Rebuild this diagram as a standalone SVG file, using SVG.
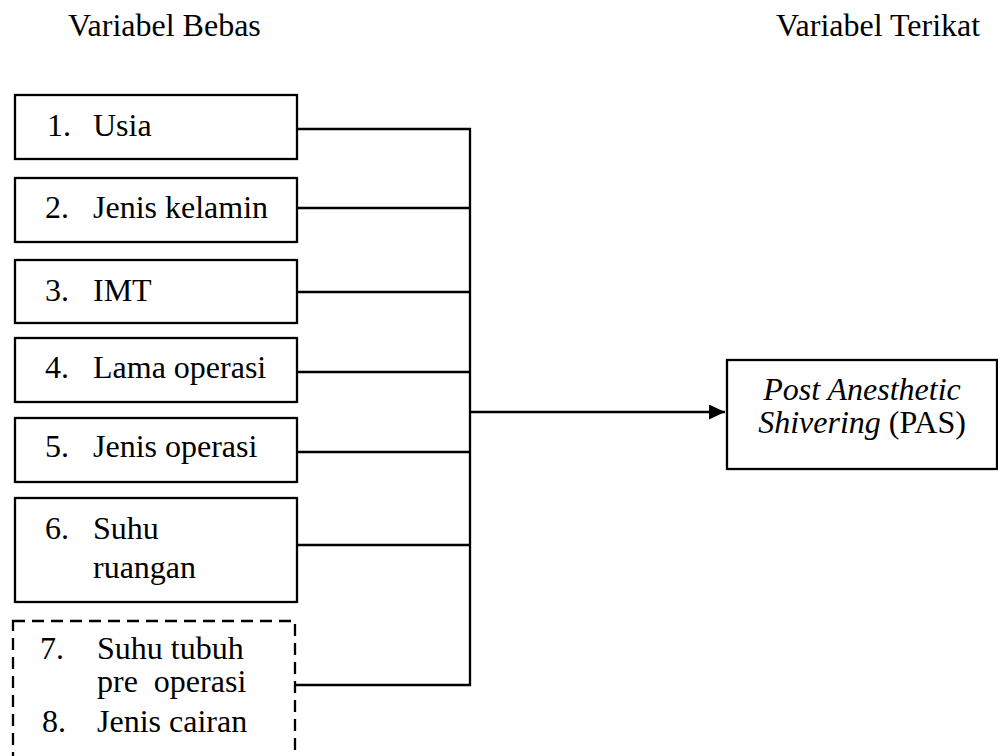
<svg xmlns="http://www.w3.org/2000/svg" width="998" height="756" viewBox="0 0 998 756">
<style>
.box{fill:#fff;stroke:#000;stroke-width:2.3}
.dash{fill:none;stroke:#000;stroke-width:2.3;stroke-dasharray:12 7}
.ln{stroke:#000;stroke-width:2.3;fill:none}
.it{font-style:italic}
</style>
<defs>
<marker id="arr" markerWidth="16" markerHeight="16" refX="16" refY="7.5" orient="auto" markerUnits="userSpaceOnUse">
<path d="M0,0 L16,7.5 L0,15 Z" fill="#000"/>
</marker>
</defs>
<rect width="998" height="756" fill="#fff"/>
<g font-family="Liberation Serif, Times New Roman, serif" font-size="32" fill="#000">
<g id="headings">
<text x="68" y="36">Variabel Bebas</text>
<text x="776" y="36">Variabel Terikat</text>
</g>
<g id="connectors">
<line class="ln" x1="297" y1="129" x2="471" y2="129"/>
<line class="ln" x1="297" y1="208" x2="470" y2="208"/>
<line class="ln" x1="297" y1="292" x2="470" y2="292"/>
<line class="ln" x1="297" y1="372" x2="470" y2="372"/>
<line class="ln" x1="297" y1="452" x2="470" y2="452"/>
<line class="ln" x1="297" y1="545" x2="470" y2="545"/>
<line class="ln" x1="295" y1="685" x2="471" y2="685"/>
<line class="ln" x1="470" y1="128" x2="470" y2="686"/>
<line class="ln" x1="470" y1="412" x2="725" y2="412" marker-end="url(#arr)"/>
</g>
<g id="n1"><rect class="box" x="15" y="95" width="282" height="64"/><text x="47" y="136">1.</text><text x="93" y="136">Usia</text></g>
<g id="n2"><rect class="box" x="15" y="178" width="282" height="64"/><text x="45" y="218">2.</text><text x="93" y="218">Jenis kelamin</text></g>
<g id="n3"><rect class="box" x="15" y="260" width="282" height="63"/><text x="45" y="301">3.</text><text x="93" y="301">IMT</text></g>
<g id="n4"><rect class="box" x="15" y="338" width="282" height="64"/><text x="45" y="378">4.</text><text x="93" y="378">Lama operasi</text></g>
<g id="n5"><rect class="box" x="15" y="418" width="282" height="64"/><text x="45" y="457">5.</text><text x="93" y="457">Jenis operasi</text></g>
<g id="n6"><rect class="box" x="15" y="498" width="282" height="104"/><text x="45" y="539">6.</text><text x="93" y="539">Suhu</text><text x="93" y="578">ruangan</text></g>
<g id="n7"><rect class="dash" x="13" y="621" width="282" height="160"/><text x="40" y="659">7.</text><text x="97" y="659">Suhu tubuh</text><text x="97" y="692" xml:space="preserve">pre  operasi</text><text x="42" y="732">8.</text><text x="97" y="732">Jenis cairan</text></g>
<g id="pas"><rect class="box" x="727" y="360" width="270" height="109"/><text x="862" y="400" text-anchor="middle" class="it">Post Anesthetic</text><text x="862" y="433" text-anchor="middle"><tspan class="it">Shivering</tspan> (PAS)</text></g>
</g>
</svg>
